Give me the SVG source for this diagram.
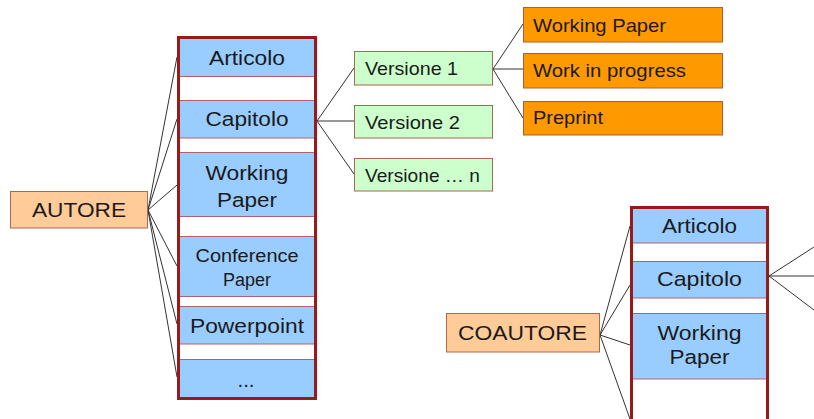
<svg xmlns="http://www.w3.org/2000/svg" width="814" height="419" viewBox="0 0 814 419">
<style>
text{font-family:"Liberation Sans",Arial,sans-serif;fill:#1a1a1a;}
.big{font-size:20.5px;}
.mid{font-size:19px;}
.sm{font-size:18px;}
.c{text-anchor:middle;}
.cell{fill:#99CCFF;stroke:#B4606A;stroke-width:1;}
.cont{fill:none;stroke:#9A1A1A;stroke-width:3;}
.auth{fill:#FFCC99;stroke:#B0684C;stroke-width:1;}
.ver{fill:#CCFFCC;stroke:#A8664C;stroke-width:1;}
.typ{fill:#FF9900;stroke:#B0602C;stroke-width:1;}
.conn line{stroke:#333;stroke-width:1;}
</style>
<rect width="814" height="419" fill="#fff"/>
<g id="connectors" class="conn">
<line x1="148" y1="210" x2="177" y2="57"/>
<line x1="148" y1="210" x2="177" y2="119"/>
<line x1="148" y1="210" x2="177" y2="185"/>
<line x1="148" y1="210" x2="177" y2="266"/>
<line x1="148" y1="210" x2="177" y2="324"/>
<line x1="148" y1="210" x2="177" y2="377"/>
<line x1="317" y1="121" x2="354" y2="68"/>
<line x1="317" y1="121" x2="354" y2="121"/>
<line x1="317" y1="121" x2="354" y2="174"/>
<line x1="493" y1="69" x2="523" y2="24"/>
<line x1="493" y1="69" x2="523" y2="69"/>
<line x1="493" y1="69" x2="523" y2="118"/>
<line x1="600" y1="335" x2="630" y2="226"/>
<line x1="600" y1="335" x2="630" y2="285"/>
<line x1="600" y1="335" x2="630" y2="345"/>
<line x1="600" y1="335" x2="630" y2="419"/>
<line x1="769" y1="276" x2="814" y2="247"/>
<line x1="769" y1="276" x2="814" y2="276"/>
<line x1="769" y1="276" x2="814" y2="310"/>
</g>
<g id="autore">
<rect class="auth" x="10.5" y="191.5" width="137" height="36.5"/>
<text class="big c" x="79" y="217" textLength="94" lengthAdjust="spacingAndGlyphs">AUTORE</text>
</g>
<g id="autore-list">
<g id="a-articolo"><rect class="cell" x="179.5" y="38.5" width="136" height="38"/>
<text class="big c" x="247" y="65" textLength="76" lengthAdjust="spacingAndGlyphs">Articolo</text></g>
<g id="a-capitolo"><rect class="cell" x="179.5" y="100.5" width="136" height="37.5"/>
<text class="big c" x="247" y="126" textLength="83" lengthAdjust="spacingAndGlyphs">Capitolo</text></g>
<g id="a-working"><rect class="cell" x="179.5" y="152.5" width="136" height="64"/>
<text class="big c" x="247" y="180" textLength="83" lengthAdjust="spacingAndGlyphs">Working</text>
<text class="big c" x="247" y="207" textLength="60" lengthAdjust="spacingAndGlyphs">Paper</text></g>
<g id="a-conference"><rect class="cell" x="179.5" y="236.5" width="136" height="60"/>
<text class="sm c" x="247" y="262" textLength="103" lengthAdjust="spacingAndGlyphs">Conference</text>
<text class="sm c" x="247" y="286" textLength="48" lengthAdjust="spacingAndGlyphs">Paper</text></g>
<g id="a-powerpoint"><rect class="cell" x="179.5" y="306.5" width="136" height="37.5"/>
<text class="big c" x="247" y="333" textLength="114" lengthAdjust="spacingAndGlyphs">Powerpoint</text></g>
<g id="a-more"><rect class="cell" x="179.5" y="359.5" width="136" height="38"/>
<text class="big c" x="246" y="387">...</text></g>
<rect class="cont" x="178.5" y="37.5" width="137" height="361"/>
</g>
<g id="versione1"><rect class="ver" x="354.5" y="51.5" width="138" height="33.5"/>
<text class="mid" x="365" y="75" textLength="93" lengthAdjust="spacingAndGlyphs">Versione 1</text></g>
<g id="versione2"><rect class="ver" x="354.5" y="105.5" width="138" height="32.5"/>
<text class="mid" x="365" y="129" textLength="95" lengthAdjust="spacingAndGlyphs">Versione 2</text></g>
<g id="versionen"><rect class="ver" x="354.5" y="158.5" width="138" height="32.5"/>
<text class="mid" x="365" y="182" textLength="115" lengthAdjust="spacingAndGlyphs">Versione … n</text></g>
<g id="working-paper"><rect class="typ" x="523.5" y="7.5" width="199" height="34.5"/>
<text class="mid" x="533" y="32" textLength="133" lengthAdjust="spacingAndGlyphs">Working Paper</text></g>
<g id="work-in-progress"><rect class="typ" x="523.5" y="53.5" width="199" height="34.5"/>
<text class="mid" x="533" y="77" textLength="153" lengthAdjust="spacingAndGlyphs">Work in progress</text></g>
<g id="preprint"><rect class="typ" x="523.5" y="101.5" width="199" height="33.5"/>
<text class="mid" x="533" y="124" textLength="70" lengthAdjust="spacingAndGlyphs">Preprint</text></g>
<g id="coautore">
<rect class="auth" x="446.5" y="313.5" width="153" height="38.5"/>
<text class="big c" x="522.5" y="340" textLength="129" lengthAdjust="spacingAndGlyphs">COAUTORE</text>
</g>
<g id="coautore-list">
<g id="c-articolo"><rect class="cell" x="632.5" y="208.5" width="135" height="34.5"/>
<text class="big c" x="699.5" y="233" textLength="75" lengthAdjust="spacingAndGlyphs">Articolo</text></g>
<g id="c-capitolo"><rect class="cell" x="632.5" y="261.5" width="135" height="36.5"/>
<text class="big c" x="699.5" y="286" textLength="85" lengthAdjust="spacingAndGlyphs">Capitolo</text></g>
<g id="c-working"><rect class="cell" x="632.5" y="313.5" width="135" height="65.5"/>
<text class="big c" x="699.5" y="340" textLength="84" lengthAdjust="spacingAndGlyphs">Working</text>
<text class="big c" x="699.5" y="364" textLength="60" lengthAdjust="spacingAndGlyphs">Paper</text></g>
<rect class="cont" x="631.5" y="207.5" width="136" height="230"/>
</g>
</svg>
